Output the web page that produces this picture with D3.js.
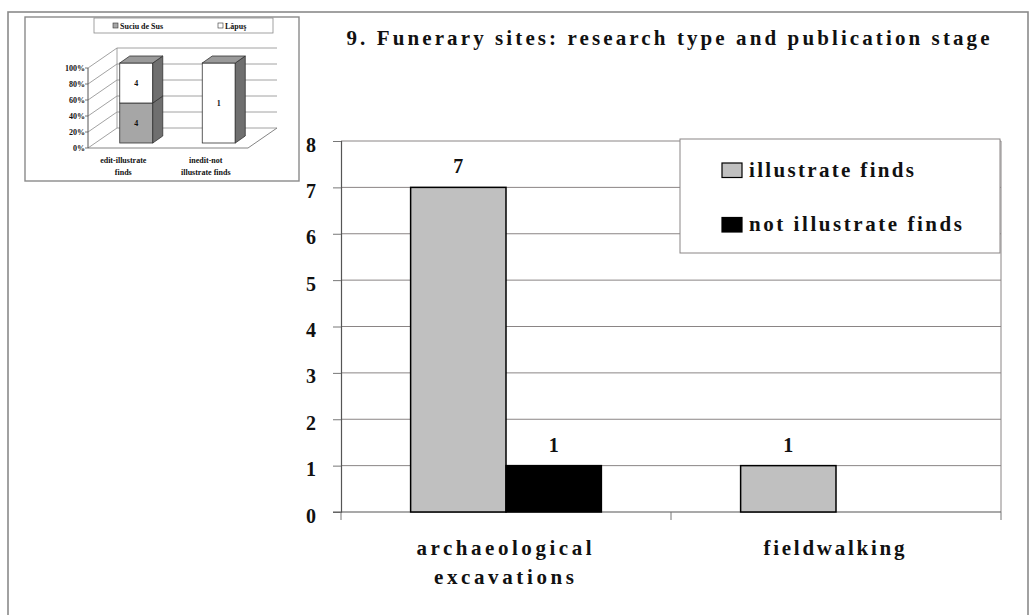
<!DOCTYPE html>
<html>
<head>
<meta charset="utf-8">
<script src="https://cdn.jsdelivr.net/npm/d3@7/dist/d3.min.js"></script>
<style>
  html, body { margin: 0; padding: 0; background: #fff; }
  svg { display: block; }
  text { font-family: "Liberation Serif", "Times New Roman", Times, serif; font-weight: bold; fill: #111; }
</style>
</head>
<body>
<svg id="chart" width="1033" height="615"></svg>
<script>
// ---- Main chart data ----
const categories = ["archaeological excavations", "fieldwalking"];
const categoryLines = [["archaeological", "excavations"], ["fieldwalking"]];
const seriesNames = ["illustrate finds", "not illustrate finds"];
const illustrateFinds = [7, 1];
const notIllustrateFinds = [1, null];
const yTicks = [0, 1, 2, 3, 4, 5, 6, 7, 8];
const titleText = "9. Funerary sites: research type and publication stage";

// ---- Inset chart data (100% stacked, 3-D columns) ----
const insetCategories = ["edit-illustrate finds", "inedit-not illustrate finds"];
const insetCategoryLines = [["edit-illustrate", "finds"], ["inedit-not", "illustrate finds"]];
const insetSeriesNames = ["Suciu de Sus", "Lăpuş"];
const suciuDeSus = [4, 0];
const lapus = [4, 1];
const insetTicks = [0, 0.2, 0.4, 0.6, 0.8, 1];

const svg = d3.select("#chart");

// outer frame
svg.append("rect")
  .attr("x", 8).attr("y", 12).attr("width", 1020).attr("height", 640)
  .attr("fill", "none").attr("stroke", "#8a8a8a").attr("stroke-width", 1.6);

// ================= main chart =================
const plot = { left: 341, right: 1001, top: 141, bottom: 512 };
const y = d3.scaleLinear().domain([0, 8]).range([plot.bottom, plot.top]);
const x0 = d3.scaleBand().domain(categories).range([plot.left, plot.right]).paddingInner(0).paddingOuter(0);
const x1 = d3.scaleBand().domain(seriesNames).range([0, x0.bandwidth()]).paddingInner(0).paddingOuter(0.73);
const fills = { "illustrate finds": "#c0c0c0", "not illustrate finds": "#000" };

// gridlines
svg.append("g").selectAll("line").data(yTicks.filter(d => d > 0)).join("line")
  .attr("x1", plot.left).attr("x2", plot.right)
  .attr("y1", d => y(d)).attr("y2", d => y(d))
  .attr("stroke", "#8a8585").attr("stroke-width", 1);

// plot right edge
svg.append("line")
  .attr("x1", plot.right).attr("x2", plot.right)
  .attr("y1", plot.top).attr("y2", plot.bottom)
  .attr("stroke", "#8a8585").attr("stroke-width", 1);

// y axis
const yAxis = d3.axisLeft(y).tickValues(yTicks).tickSize(8).tickPadding(0);
const gy = svg.append("g").attr("transform", `translate(${plot.left},0)`).call(yAxis);
gy.select(".domain").attr("stroke", "#555").attr("stroke-width", 1.2);
gy.selectAll(".tick line").attr("stroke", "#777");
gy.selectAll(".tick text")
  .attr("x", 316 - plot.left).attr("dy", null).attr("y", 10)
  .attr("text-anchor", "end")
  .style("font-family", "'Liberation Serif', 'Times New Roman', serif")
  .style("font-weight", "bold").style("font-size", "20px").attr("fill", "#111");

// x axis (category boundary ticks)
const xTickPos = [plot.left, ...categories.map(c => x0(c) + x0.bandwidth())];
svg.append("line")
  .attr("x1", plot.left - 8).attr("x2", plot.right)
  .attr("y1", plot.bottom).attr("y2", plot.bottom)
  .attr("stroke", "#555").attr("stroke-width", 1.2);
svg.append("g").selectAll("line").data(xTickPos).join("line")
  .attr("x1", d => d).attr("x2", d => d)
  .attr("y1", plot.bottom).attr("y2", plot.bottom + 8)
  .attr("stroke", "#777");

// bars
const rows = categories.map((c, i) => ({
  cat: c,
  values: [
    { s: seriesNames[0], v: illustrateFinds[i] },
    { s: seriesNames[1], v: notIllustrateFinds[i] }
  ]
}));
const groups = svg.append("g").selectAll("g").data(rows).join("g")
  .attr("transform", d => `translate(${x0(d.cat)},0)`);
groups.selectAll("rect").data(d => d.values.filter(e => e.v != null)).join("rect")
  .attr("x", d => x1(d.s)).attr("width", x1.bandwidth())
  .attr("y", d => y(d.v)).attr("height", d => y(0) - y(d.v))
  .attr("fill", d => fills[d.s]).attr("stroke", "#000").attr("stroke-width", 1.5);
groups.selectAll("text").data(d => d.values.filter(e => e.v != null)).join("text")
  .attr("x", d => x1(d.s) + x1.bandwidth() / 2)
  .attr("y", d => y(d.v) - 14)
  .attr("text-anchor", "middle").style("font-size", "20px")
  .text(d => d.v);

// category labels
const catWidths = [[175, 140], [141]];
categories.forEach((c, i) => {
  categoryLines[i].forEach((line, j) => {
    svg.append("text")
      .attr("x", x0(c) + x0.bandwidth() / 2 - 2)
      .attr("y", 555 + j * 29)
      .attr("text-anchor", "middle")
      .attr("textLength", catWidths[i][j]).attr("lengthAdjust", "spacing")
      .style("font-size", "21px")
      .text(line);
  });
});

// title
svg.append("text")
  .attr("x", 668).attr("y", 45).attr("text-anchor", "middle")
  .attr("textLength", 643).attr("lengthAdjust", "spacing")
  .style("font-size", "21px")
  .text(titleText);

// legend
const legend = svg.append("g");
legend.append("rect")
  .attr("x", 680).attr("y", 139).attr("width", 320).attr("height", 114)
  .attr("fill", "#fff").attr("stroke", "#8a8585").attr("stroke-width", 1);
const legWidths = [165, 213];
seriesNames.forEach((s, i) => {
  const ly = 170 + i * 54.5;
  legend.append("rect")
    .attr("x", 722).attr("y", ly - 7).attr("width", 20).attr("height", 14.5)
    .attr("fill", fills[s]).attr("stroke", "#000").attr("stroke-width", 1.2);
  legend.append("text")
    .attr("x", 749).attr("y", ly + 6.5)
    .attr("textLength", legWidths[i]).attr("lengthAdjust", "spacing")
    .style("font-size", "21px")
    .text(s);
});

// ================= inset chart =================
const inset = svg.append("g");
inset.append("rect")
  .attr("x", 25).attr("y", 17).attr("width", 274).attr("height", 164)
  .attr("fill", "#fff").attr("stroke", "#8a8a8a").attr("stroke-width", 1.4);

// depth offsets of the 3-D frame
const depthX = 29, depthY = -20;
const yi = d3.scaleLinear().domain([0, 1]).range([148, 68]);
const axisX = 88, floorRight = 248;

// back wall gridlines and left wall lines
inset.append("g").selectAll("line").data(insetTicks).join("line")
  .attr("x1", axisX + depthX).attr("x2", floorRight + depthX)
  .attr("y1", d => yi(d) + depthY).attr("y2", d => yi(d) + depthY)
  .attr("stroke", "#8a8a8a").attr("stroke-width", 0.8);
inset.append("g").selectAll("line").data(insetTicks).join("line")
  .attr("x1", axisX).attr("x2", axisX + depthX)
  .attr("y1", d => yi(d)).attr("y2", d => yi(d) + depthY)
  .attr("stroke", "#8a8a8a").attr("stroke-width", 0.8);
inset.append("line")
  .attr("x1", axisX + depthX).attr("x2", axisX + depthX)
  .attr("y1", yi(1) + depthY).attr("y2", yi(0) + depthY)
  .attr("stroke", "#8a8a8a").attr("stroke-width", 0.8);
// floor
inset.append("path")
  .attr("d", `M${axisX},${yi(0)} L${floorRight},${yi(0)} L${floorRight + depthX},${yi(0) + depthY}`)
  .attr("fill", "none").attr("stroke", "#777").attr("stroke-width", 0.9);
// front axis
inset.append("line")
  .attr("x1", axisX).attr("x2", axisX).attr("y1", yi(1)).attr("y2", yi(0))
  .attr("stroke", "#555").attr("stroke-width", 1);
inset.append("g").selectAll("line").data(insetTicks).join("line")
  .attr("x1", axisX - 3).attr("x2", axisX)
  .attr("y1", d => yi(d)).attr("y2", d => yi(d))
  .attr("stroke", "#555").attr("stroke-width", 0.8);
inset.append("g").selectAll("text").data(insetTicks).join("text")
  .attr("x", axisX - 3).attr("y", d => yi(d) + 3)
  .attr("text-anchor", "end").style("font-size", "8px").attr("fill", "#222")
  .text(d => Math.round(d * 100) + "%");

// columns
const xi = d3.scaleBand().domain(insetCategories).range([95, 260]).paddingInner(0.6).paddingOuter(0.3);
const colShiftY = -5, colDepthX = 10, colDepthY = -7;
const yc = v => yi(v) + colShiftY;
const insetFills = { "Suciu de Sus": "#a6a6a6", "Lăpuş": "#ffffff" };
const sideFill = "#6f6f6f", topFill = "#9a9a9a";
insetCategories.forEach((c, i) => {
  const total = suciuDeSus[i] + lapus[i];
  const segs = [
    { s: insetSeriesNames[0], v: suciuDeSus[i] },
    { s: insetSeriesNames[1], v: lapus[i] }
  ];
  let acc = 0;
  const x0c = xi(c), x1c = xi(c) + xi.bandwidth();
  segs.forEach(seg => {
    if (!seg.v) return;
    const a = acc / total, b = (acc + seg.v) / total;
    acc += seg.v;
    // front face
    inset.append("rect")
      .attr("x", x0c).attr("y", yc(b)).attr("width", xi.bandwidth()).attr("height", yc(a) - yc(b))
      .attr("fill", insetFills[seg.s]).attr("stroke", "#333").attr("stroke-width", 0.8);
    // side face
    inset.append("path")
      .attr("d", `M${x1c},${yc(a)} L${x1c},${yc(b)} L${x1c + colDepthX},${yc(b) + colDepthY} L${x1c + colDepthX},${yc(a) + colDepthY} Z`)
      .attr("fill", sideFill).attr("stroke", "#333").attr("stroke-width", 0.8);
    inset.append("text")
      .attr("x", (x0c + x1c) / 2).attr("y", (yc(a) + yc(b)) / 2 + 3)
      .attr("text-anchor", "middle").style("font-size", "8px").attr("fill", "#222")
      .text(seg.v);
  });
  // top face
  inset.append("path")
    .attr("d", `M${x0c},${yc(1)} L${x1c},${yc(1)} L${x1c + colDepthX},${yc(1) + colDepthY} L${x0c + colDepthX},${yc(1) + colDepthY} Z`)
    .attr("fill", topFill).attr("stroke", "#333").attr("stroke-width", 0.8);
  // category labels
  insetCategoryLines[i].forEach((line, j) => {
    inset.append("text")
      .attr("x", (x0c + x1c) / 2 - 13).attr("y", 163 + j * 12)
      .attr("text-anchor", "middle").style("font-size", "8px").attr("fill", "#222")
      .text(line);
  });
});

// inset legend
inset.append("rect")
  .attr("x", 94).attr("y", 18).attr("width", 179).attr("height", 15)
  .attr("fill", "#fff").attr("stroke", "#8a8a8a").attr("stroke-width", 0.8);
const insetLegX = [113, 218];
insetSeriesNames.forEach((s, i) => {
  inset.append("rect")
    .attr("x", insetLegX[i]).attr("y", 23).attr("width", 5).attr("height", 5)
    .attr("fill", insetFills[s]).attr("stroke", "#333").attr("stroke-width", 0.6);
  inset.append("text")
    .attr("x", insetLegX[i] + 7).attr("y", 28.5).style("font-size", "8px").attr("fill", "#222")
    .text(s);
});
</script>
</body>
</html>
